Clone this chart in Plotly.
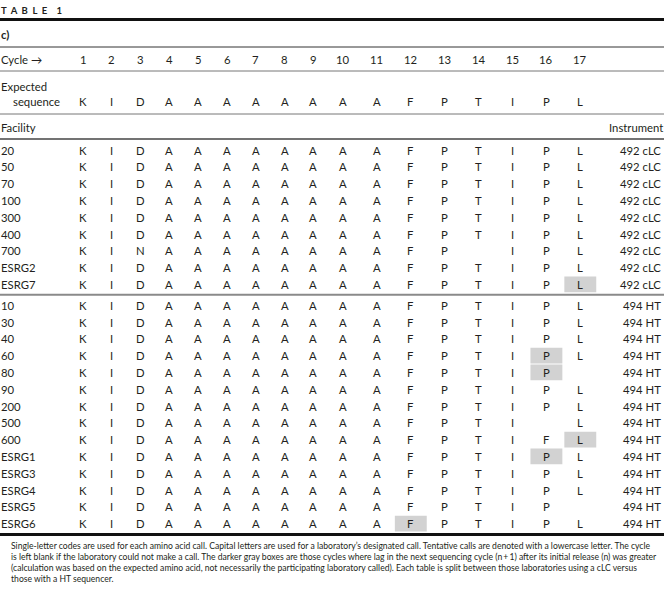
import plotly.graph_objects as go

# ---------------- data ----------------
cycles = [str(i) for i in range(1, 18)]
expected = ["K", "I", "D", "A", "A", "A", "A", "A", "A", "A", "A", "F", "P", "T", "I", "P", "L"]

clc_facilities = ["20", "50", "70", "100", "300", "400", "700", "ESRG2", "ESRG7"]
clc_calls = [
    "KIDAAAAAAAAFPTIPL",
    "KIDAAAAAAAAFPTIPL",
    "KIDAAAAAAAAFPTIPL",
    "KIDAAAAAAAAFPTIPL",
    "KIDAAAAAAAAFPTIPL",
    "KIDAAAAAAAAFPTIPL",
    "KINAAAAAAAAFP.IPL",
    "KIDAAAAAAAAFPTIPL",
    "KIDAAAAAAAAFPTIPL",
]
clc_instrument = ["492 cLC"] * 9

ht_facilities = ["10", "30", "40", "60", "80", "90", "200", "500", "600",
                 "ESRG1", "ESRG3", "ESRG4", "ESRG5", "ESRG6"]
ht_calls = [
    "KIDAAAAAAAAFPTIPL",
    "KIDAAAAAAAAFPTIPL",
    "KIDAAAAAAAAFPTIPL",
    "KIDAAAAAAAAFPTIPL",
    "KIDAAAAAAAAFPTIP.",
    "KIDAAAAAAAAFPTIPL",
    "KIDAAAAAAAAFPTIPL",
    "KIDAAAAAAAAFPTI.L",
    "KIDAAAAAAAAFPTIFL",
    "KIDAAAAAAAAFPTIPL",
    "KIDAAAAAAAAFPTIPL",
    "KIDAAAAAAAAFPTIPL",
    "KIDAAAAAAAAFPTIP.",
    "KIDAAAAAAAAFPTIPL",
]
ht_instrument = ["494 HT"] * 14

# highlighted (darker gray) cells: (group, facility, cycle)
highlights = [("cLC", "ESRG7", 17), ("HT", "60", 16), ("HT", "80", 16),
              ("HT", "600", 17), ("HT", "ESRG1", 16), ("HT", "ESRG6", 12)]

footnote = [
    "Single-letter codes are used for each amino acid call. Capital letters are used for a laboratory\u2019s designated call. Tentative calls are denoted with a lowercase letter. The cycle",
    "is left blank if the laboratory could not make a call. The darker gray boxes are those cycles where lag in the next sequencing cycle (n\u2009+\u20091) after its initial release (n) was greater",
    "(calculation was based on the expected amino acid, not necessarily the participating laboratory called). Each table is split between those laboratories using a cLC versus",
    "those with a HT sequencer.",
]

# ---------------- layout geometry ----------------
W, H = 664, 591
FONT = "Lato"
TXT = "#231f20"
FS = 11.3

def col_x(i):  # i: 0-based cycle index
    if i < 9:
        return 83 + i * 28.8
    return 343 + (i - 9) * 33.9

def col_w(i):
    return 28.8 if i < 9 else 33.9

ROW0 = 150
STEP = 16.8
GAP = 4
clc_y = [ROW0 + k * STEP for k in range(len(clc_facilities))]
ht_y = [clc_y[-1] + STEP + GAP + k * STEP for k in range(len(ht_facilities))]
INSTR_X = 662
LEFT = 0.01

fig = go.Figure()
ann = []
shapes = []

def txt(x, y, s, anchor="center", size=FS, bold=False, color=TXT):
    ann.append(dict(x=x, y=y, xref="x", yref="y", text=("<b>%s</b>" % s) if bold else s,
                    showarrow=False, xanchor=anchor, yanchor="middle", borderpad=0,
                    font=dict(family=FONT, size=size, color=color)))

def hline(y, width=1, color="#555"):
    shapes.append(dict(type="line", xref="x", yref="y", x0=0, x1=W, y0=y, y1=y,
                       line=dict(color=color, width=width)))

# title
txt(LEFT, 10, "T &nbsp;A &nbsp;B &nbsp;L &nbsp;E &nbsp;&nbsp;&nbsp;1", anchor="left", size=9.5, bold=True)
hline(19.5, 3, "#111")
txt(LEFT, 34, "c)", anchor="left", size=FS, bold=True)
hline(47, 1, "#333")
txt(LEFT, 59, "Cycle \u2192", anchor="left")
for i, c in enumerate(cycles):
    txt(col_x(i), 59, c)
hline(71, 1, "#777")
txt(LEFT, 86, "Expected", anchor="left")
txt(12, 101, "sequence", anchor="left")
for i, c in enumerate(expected):
    txt(col_x(i), 101, c)
hline(114, 1, "#777")
txt(LEFT, 127, "Facility", anchor="left")
txt(INSTR_X + 2, 127, "Instrument", anchor="right")
hline(139, 1.5, "#444")

# highlight boxes
rowmap = {("cLC", f): clc_y[k] for k, f in enumerate(clc_facilities)}
rowmap.update({("HT", f): ht_y[k] for k, f in enumerate(ht_facilities)})
for g, f, cyc in highlights:
    i = cyc - 1
    y = rowmap[(g, f)]
    shapes.append(dict(type="rect", xref="x", yref="y", layer="below",
                       x0=col_x(i) - col_w(i) / 2 + 1, x1=col_x(i) + col_w(i) / 2 - 1,
                       y0=y - STEP / 2 + 0.6, y1=y + STEP / 2 - 0.6,
                       fillcolor="#d2d2d2", line=dict(width=0)))

def draw_group(facs, calls, instr, ys):
    for f, cs, ins, y in zip(facs, calls, instr, ys):
        txt(LEFT, y, f, anchor="left")
        for i, ch in enumerate(cs):
            if ch != ".":
                txt(col_x(i), y, ch)
        txt(INSTR_X, y, ins, anchor="right")

draw_group(clc_facilities, clc_calls, clc_instrument, clc_y)
hline(clc_y[-1] + STEP / 2 + 2, 2, "#8a8a8a")
draw_group(ht_facilities, ht_calls, ht_instrument, ht_y)
bottom = ht_y[-1] + 11
hline(bottom, 3, "#111")

for k, line in enumerate(footnote):
    txt(10, bottom + 11 + k * 11, line, anchor="left", size=8.6)

fig.update_layout(
    width=W, height=H, margin=dict(l=0, r=0, t=0, b=0),
    paper_bgcolor="white", plot_bgcolor="white",
    xaxis=dict(range=[0, W], visible=False, fixedrange=True),
    yaxis=dict(range=[H, 0], visible=False, fixedrange=True),
    annotations=ann, shapes=shapes, showlegend=False,
)
fig.write_html("out.html", config={"displayModeBar": False},
               post_script="document.body.style.margin='0';document.body.style.overflow='hidden';")
